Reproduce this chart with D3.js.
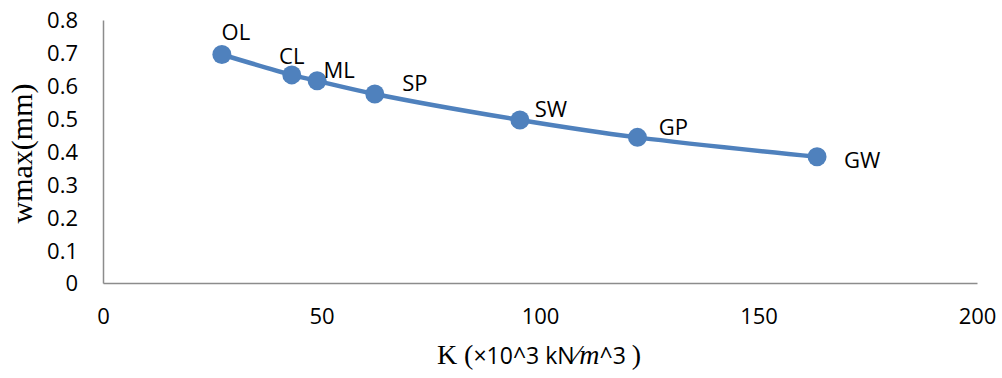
<!DOCTYPE html>
<html>
<head>
<meta charset="utf-8">
<script src="https://cdn.jsdelivr.net/npm/d3@7"></script>
<style>
  html, body { margin: 0; padding: 0; background: #fff; }
  svg { display: block; }
</style>
</head>
<body>
<svg id="chart" width="1002" height="378"></svg>
<script>
// Soil types with subgrade modulus K (×10^3 kN/m^3) and maximum deflection (mm)
const soils = ["OL", "CL", "ML", "SP", "SW", "GP", "GW"];
const kValues = [27.2, 43.2, 49.0, 62.2, 95.4, 122.3, 163.4];
const wmaxValues = [0.695, 0.633, 0.615, 0.575, 0.496, 0.443, 0.384];
const xTicks = [0, 50, 100, 150, 200];
const yTicks = [0, 0.1, 0.2, 0.3, 0.4, 0.5, 0.6, 0.7, 0.8];

const svg = d3.select("#chart");
const margin = { left: 103, right: 25, top: 20, bottom: 95 };
const W = 1002, H = 378;

const x = d3.scaleLinear().domain([0, 200]).range([margin.left, W - margin.right]);
const y = d3.scaleLinear().domain([0, 0.8]).range([H - margin.bottom, margin.top]);

const tickFont = "'Open Sans', 'Liberation Sans', sans-serif";
const serifFont = "'Liberation Serif', 'DejaVu Serif', serif";
const axisColor = "#8c8c8c";

// Axes
const xAxis = svg.append("g")
  .attr("transform", `translate(0,${y(0)})`)
  .call(d3.axisBottom(x).tickValues(xTicks).tickSize(0).tickPadding(25).tickFormat(d3.format("d")));
const yAxis = svg.append("g")
  .attr("transform", `translate(${x(0)},0)`)
  .call(d3.axisLeft(y).tickValues(yTicks).tickSize(0).tickPadding(25).tickFormat(d => d === 0 ? "0" : d3.format(".1f")(d)));

[xAxis, yAxis].forEach(g => {
  g.select(".domain").attr("stroke", axisColor).attr("stroke-width", 1.5);
  g.selectAll("text")
    .attr("fill", "#000")
    .style("font-family", tickFont)
    .style("font-size", "22px");
});
yAxis.selectAll("text").attr("dy", "0.36em");

// Smoothed line through the points
const pts = kValues.map((k, i) => ({ k, w: wmaxValues[i], name: soils[i] }));
const line = d3.line().x(d => x(d.k)).y(d => y(d.w)).curve(d3.curveCatmullRom.alpha(0.5));

svg.append("path")
  .datum(pts)
  .attr("fill", "none")
  .attr("stroke", "#4f81bd")
  .attr("stroke-width", 4.5)
  .attr("d", line);

svg.append("g").selectAll("circle")
  .data(pts)
  .join("circle")
  .attr("cx", d => x(d.k))
  .attr("cy", d => y(d.w))
  .attr("r", 9.5)
  .attr("fill", "#4f81bd");

// Point labels (offsets relative to each marker)
const labelOffsets = {
  OL: [14, -15], CL: [0, -11], ML: [22, -3], SP: [40, -3],
  SW: [31, -3], GP: [36, -2], GW: [45, 11]
};
svg.append("g").selectAll("text")
  .data(pts)
  .join("text")
  .attr("x", d => x(d.k) + labelOffsets[d.name][0])
  .attr("y", d => y(d.w) + labelOffsets[d.name][1])
  .attr("text-anchor", "middle")
  .style("font-family", tickFont)
  .style("font-size", "22px")
  .attr("fill", "#000")
  .text(d => d.name);

// Axis titles
svg.append("text")
  .attr("transform", `translate(32,${(y(0) + y(0.8)) / 2 + 2}) rotate(-90)`)
  .attr("text-anchor", "middle")
  .style("font-family", serifFont)
  .style("font-size", "30px")
  .text("wmax(mm)");

const xt = svg.append("text")
  .attr("x", 539)
  .attr("y", 364)
  .attr("text-anchor", "middle")
  .style("font-size", "28px");
xt.append("tspan").style("font-family", serifFont).text("K (");
xt.append("tspan").style("font-family", tickFont).style("font-size", "23px").text("×10^3 kN");
xt.append("tspan").style("font-family", serifFont).text("⁄");
xt.append("tspan").style("font-family", serifFont).style("font-style", "italic").text("m");
xt.append("tspan").style("font-family", tickFont).style("font-size", "23px").text("^3 ");
xt.append("tspan").style("font-family", serifFont).text(")");
</script>
</body>
</html>
